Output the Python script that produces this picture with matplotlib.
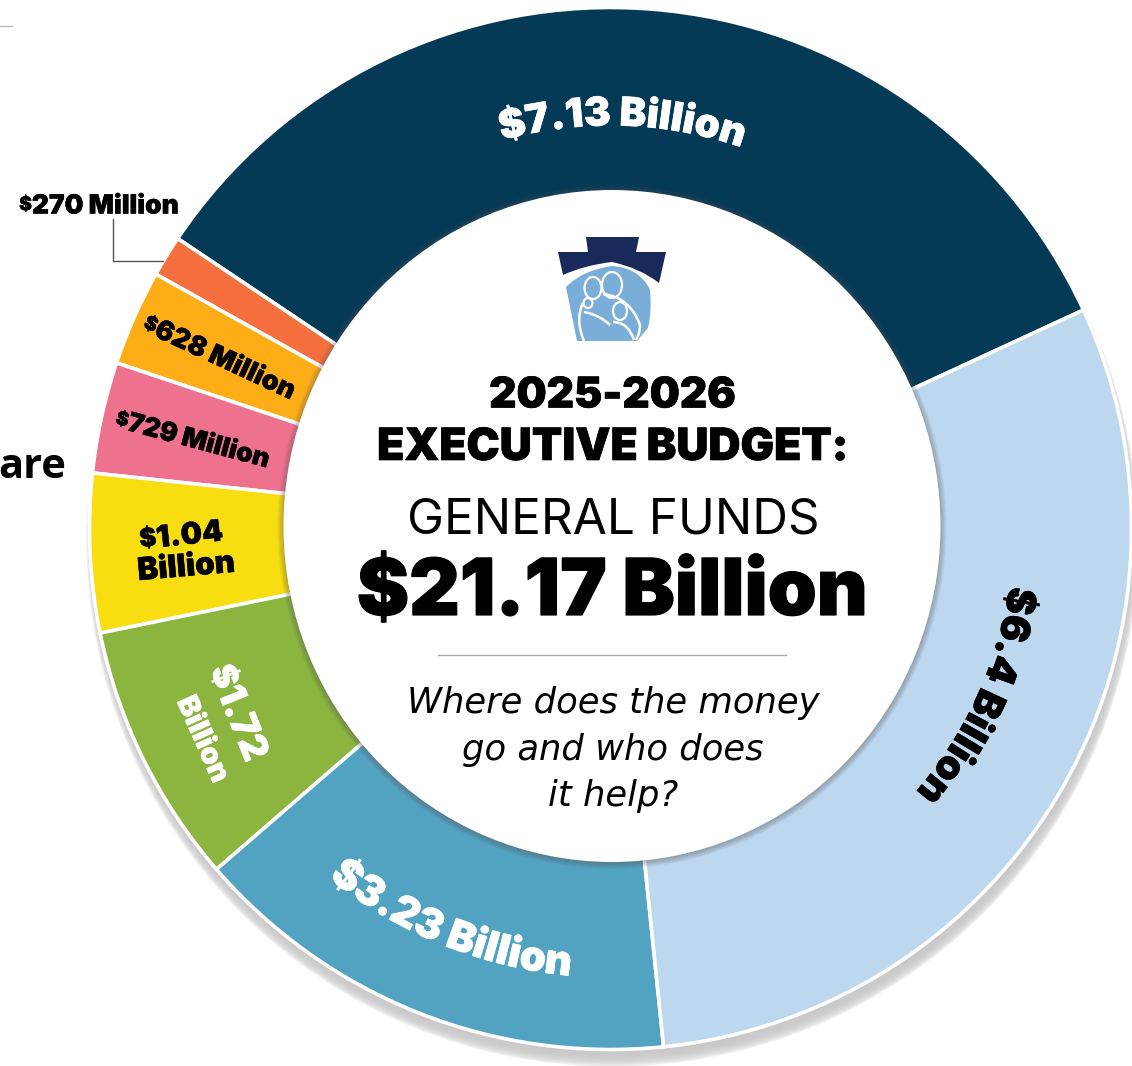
import numpy as np
import matplotlib
matplotlib.use('Agg')
import matplotlib.pyplot as plt
import matplotlib.patheffects as pe
from matplotlib.patches import Circle, PathPatch, Ellipse
from matplotlib.path import Path
from matplotlib.font_manager import FontProperties
from matplotlib.textpath import text_to_path

# Budget slices, in billions, anticlockwise from the navy one
valores = [7.13, 0.27, 0.628, 0.729, 1.04, 1.72, 3.23, 6.4]
cores = ['#053a56', '#f56f3e', '#fdae17', '#ee728e', '#f8dd10', '#8bb53f', '#52a2c2', '#bdd7ee']

W, H = 1132, 1066
CX, CY = 610.5, 1066 - 528.5
R_EXT, R_INT = 521, 328
FONTE = 'Inter'


def Y(py):
    return H - py


def largura(s, size):
    fp = FontProperties(family=FONTE, weight=900, size=size)
    return text_to_path.get_text_width_height_descent(s, fp, False)[0] * 100 / 72


def grosso(ax, x, y, s, size, cor='black', **kw):
    # heavy text, with a thin stroke
    t = ax.text(x, y, s, fontsize=size, fontweight=900, family=FONTE, color=cor, zorder=8, **kw)
    t.set_path_effects([pe.withStroke(linewidth=size * 0.015, foreground=cor)])
    return t


def texto_arco(ax, s, r, meio, size, cor, horario=True):
    # one character at a time along a circle round the donut centre
    total = largura(s, size)
    for i, ch in enumerate(s):
        pos = largura(s[:i + 1], size) - largura(ch, size) / 2 - total / 2
        if horario:
            ang = meio - np.degrees(pos / r)
            rot = ang - 90
        else:
            ang = meio + np.degrees(pos / r)
            rot = ang + 90
        grosso(ax, CX + r * np.cos(np.radians(ang)), CY + r * np.sin(np.radians(ang)), ch, size, cor,
               ha='center', va='baseline', rotation=rot, rotation_mode='anchor')


def rotulo(ax, s, x, y, rot, size, cor='black', fator=0.72):
    # straight label with a smaller dollar sign in front
    corpo = s[1:]
    w_d = largura('$', size * fator)
    total = w_d + largura(corpo, size)
    c, d = np.cos(np.radians(rot)), np.sin(np.radians(rot))
    px = size * 100 / 72
    alt = px * 0.36
    x0 = x - c * total / 2 + d * alt
    y0 = Y(y) - d * total / 2 - c * alt
    sobe = px * (1 - fator) * 0.45
    grosso(ax, x0 - d * sobe, y0 + c * sobe, '$', size * fator, cor, ha='left', va='baseline',
           rotation=rot, rotation_mode='anchor')
    grosso(ax, x0 + c * w_d, y0 + d * w_d, corpo, size, cor, ha='left', va='baseline',
           rotation=rot, rotation_mode='anchor')


def desenha_logo(ax):
    pedra = [(586, 237), (639, 237), (636, 252), (666, 252), (659, 283), (640, 268), (612, 262), (585, 265),
             (563, 275), (558, 252), (588, 252), (586, 237)]
    cod = [Path.MOVETO, Path.LINETO, Path.LINETO, Path.LINETO, Path.LINETO, Path.CURVE3, Path.CURVE3,
           Path.CURVE3, Path.CURVE3, Path.LINETO, Path.LINETO, Path.CLOSEPOLY]
    ax.add_patch(PathPatch(Path([(x, Y(y)) for x, y in pedra], cod), fc='#19295a', ec='none', zorder=6))
    azul = [(566, 287), (583, 270), (612, 266), (640, 268), (650, 290), (652, 312), (648, 328), (637, 341),
            (577, 341), (566, 287)]
    cod2 = [Path.MOVETO, Path.CURVE3, Path.CURVE3, Path.CURVE3, Path.CURVE3, Path.CURVE3, Path.CURVE3,
            Path.LINETO, Path.LINETO, Path.CLOSEPOLY]
    ax.add_patch(PathPatch(Path([(x, Y(y)) for x, y in azul], cod2), fc='#7aaed8', ec='none', zorder=6))
    for cx, cy, w, h in [(612, 285, 20, 26), (593, 288, 17, 22), (588, 303, 9, 10), (620, 311, 14, 18)]:
        ax.add_patch(Ellipse((cx, Y(cy)), w, h, fc='none', ec='white', lw=1.6, zorder=7))
    linhas = [[(584, 341), (575, 320), (583, 303)],
              [(584, 312), (600, 315), (610, 325)],
              [(603, 294), (630, 297), (640, 325)],
              [(640, 325), (640, 333), (636, 340)],
              [(613, 322), (628, 322), (634, 340)]]
    for ln in linhas:
        p = Path([(x, Y(y)) for x, y in ln], [Path.MOVETO, Path.CURVE3, Path.CURVE3])
        ax.add_patch(PathPatch(p, fc='none', ec='white', lw=1.8, zorder=7))


fig = plt.figure(figsize=(W / 100, H / 100), dpi=100)
ax = fig.add_axes([0, 0, 1, 1])
ax.set_xlim(0, W)
ax.set_ylim(0, H)
ax.set_aspect('equal')
ax.axis('off')

# sombra do anel
for i in range(10):
    ax.add_patch(Circle((CX + 2, CY - 12 + i * 0.6), R_EXT + 5 - i, fc='#c8c8c8', ec='none', alpha=0.3, zorder=1))

ax.pie(valores, colors=cores, startangle=24.8, counterclock=True, center=(CX, CY), radius=R_EXT,
       wedgeprops=dict(width=R_EXT - R_INT + 15, edgecolor='white', linewidth=2.6, zorder=2), frame=False)
ax.set_xlim(0, W)
ax.set_ylim(0, H)

# sombra do circulo central
for i in range(8):
    ax.add_patch(Ellipse((612, Y(527)), 657 + 12 - 2 * i, 672 + 12 - 2 * i, fc='#555555', ec='none', alpha=0.07, zorder=3))
ax.add_patch(Ellipse((612, Y(526)), 657, 672, fc='white', ec='none', zorder=4))

desenha_logo(ax)

# rotulos curvos
texto_arco(ax, '$7.13 Billion', 403, 88.3, 28.8, 'white')
texto_arco(ax, '$6.4 Billion', 403, -24.5, 28.8, 'black')
texto_arco(ax, '$3.23 Billion', 449, 248, 30, 'white', horario=False)

# rotulos retos
rotulo(ax, '$628 Million', 220, 356, -25, 19.5)
rotulo(ax, '$729 Million', 193, 438, -15, 19)
rotulo(ax, '$1.04', 181, 534, 6, 21.5, fator=0.85)
grosso(ax, 186, Y(568), 'Billion', 22.5, rotation=5, ha='center', va='center', rotation_mode='anchor')
rotulo(ax, '$1.72', 240, 712, -68, 27, 'white', fator=0.9)
grosso(ax, 202, Y(740), 'Billion', 21, 'white', rotation=-66, ha='center', va='center', rotation_mode='anchor')
rotulo(ax, '$270 Million', 99, 204, 0, 19)

# linha guia do menor pedaco
ax.plot([113, 113, 163], [Y(219), Y(261), Y(261)], color='#555555', lw=1, zorder=5)
ax.plot([0, 12], [Y(26), Y(26)], color='#bbbbbb', lw=1, zorder=5)
ax.text(66, Y(467), 'are', fontsize=30, fontweight='bold', family='Open Sans', ha='right', va='center')

# centro
grosso(ax, 613, Y(407.5), '2025-2026', 30.5, ha='center', va='baseline')
grosso(ax, 613, Y(460), 'EXECUTIVE BUDGET:', 32, ha='center', va='baseline')
ax.text(613, Y(533), 'GENERAL FUNDS', fontsize=35.6, family='Inter', ha='center', va='baseline', zorder=8)
grosso(ax, 612, Y(615), '$21.17 Billion', 56.5, ha='center', va='baseline')
ax.plot([438, 786], [Y(655), Y(655)], color='#aaaaaa', lw=1, zorder=8)
for y, s in zip([713, 760, 806], ['Where does the money', 'go and who does', 'it help?']):
    ax.text(613, Y(y), s, fontsize=25.5, style='italic', family='DejaVu Sans', ha='center', va='baseline', zorder=8)

fig.savefig('out.png', dpi=100)
